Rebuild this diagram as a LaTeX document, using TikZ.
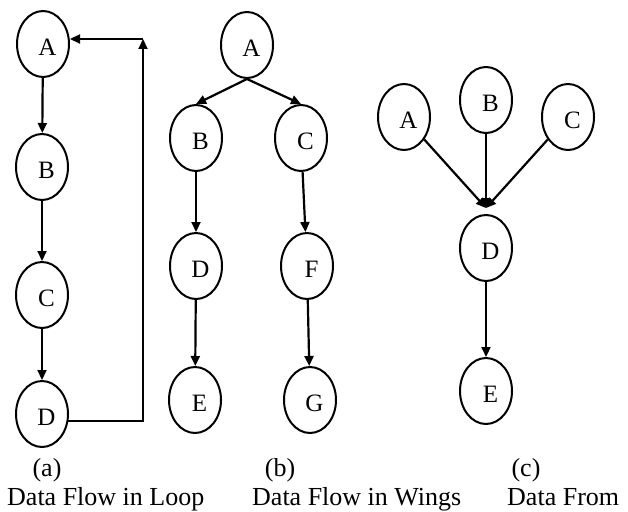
\documentclass[tikz,border=0pt]{standalone}
\usepackage{fontspec}
\setmainfont{Liberation Serif}
\usetikzlibrary{shapes.geometric,arrows.meta}
\newcommand{\nlab}[1]{\hspace*{9pt}\raisebox{-3pt}[\height][\depth]{#1}}
\begin{document}
\begin{tikzpicture}[x=1pt,y=-1pt,
  nd/.style={draw,ellipse,line width=2pt,minimum width=52pt,minimum height=66pt,inner sep=0pt,font=\fontsize{25}{28}\selectfont},
  arr/.style={line width=2.2pt,-{Triangle[length=10pt,width=9pt]}},
  captxt/.style={font=\fontsize{26}{30}\selectfont,inner sep=0pt}]
\useasboundingbox (0,0) rectangle (628,511);
% (a) loop
\node[nd] (a1) at (43,44) {\nlab{A}};
\node[nd] (a2) at (42,167) {\nlab{B}};
\node[nd] (a3) at (42,295) {\nlab{C}};
\node[nd] (a4) at (42,414) {\nlab{D}};
\coordinate (atop) at (143,39);
\draw[arr] (a1) -- (a2);
\draw[arr] (a2) -- (a3);
\draw[arr] (a3) -- (a4);
\draw[arr] (a4.-15) -| (atop);
\draw[arr] (atop) -- (atop -| a1.east);
% (b) wings
\node[nd] (b1) at (247,45) {\nlab{A}};
\node[nd] (b2) at (196,138) {\nlab{B}};
\node[nd] (b3) at (301,138) {\nlab{C}};
\node[nd] (b4) at (196,266) {\nlab{D}};
\node[nd] (b6) at (307,266) {\nlab{F}};
\node[nd] (b5) at (195,400) {\nlab{E}};
\node[nd] (b7) at (310,400) {\nlab{G}};
\draw[arr] (b1.south) -- (b2.north);
\draw[arr] (b1.south) -- (b3.north);
\draw[arr] (b2) -- (b4);
\draw[arr] (b4) -- (b5);
\draw[arr] (b3) -- (b6);
\draw[arr] (b6) -- (b7);
% (c) from
\node[nd] (c1) at (404,117) {\nlab{A}};
\node[nd] (c2) at (486,100) {\nlab{B}};
\node[nd] (c3) at (568,117) {\nlab{C}};
\node[nd] (c4) at (486,248) {\nlab{D}};
\node[nd] (c5) at (486,391) {\nlab{E}};
\coordinate (conv) at (486,208);
\draw[arr] (c1) -- (conv);
\draw[arr] (c2) -- (conv);
\draw[arr] (c3) -- (conv);
\draw[arr] (c4) -- (c5);
% captions
\node[captxt,anchor=base] (la) at (47,476) {(a)};
\node[captxt,anchor=base] (lb) at (280,476) {(b)};
\node[captxt,anchor=base] (lc) at (526,476) {(c)};
\node[captxt,anchor=base west] (ta) at (7,505) {Data Flow in Loop};
\node[captxt,anchor=base west] (tb) at (252,505) {Data Flow in Wings};
\node[captxt,anchor=base west] (tc) at (507,505) {Data From};
\end{tikzpicture}
\end{document}
